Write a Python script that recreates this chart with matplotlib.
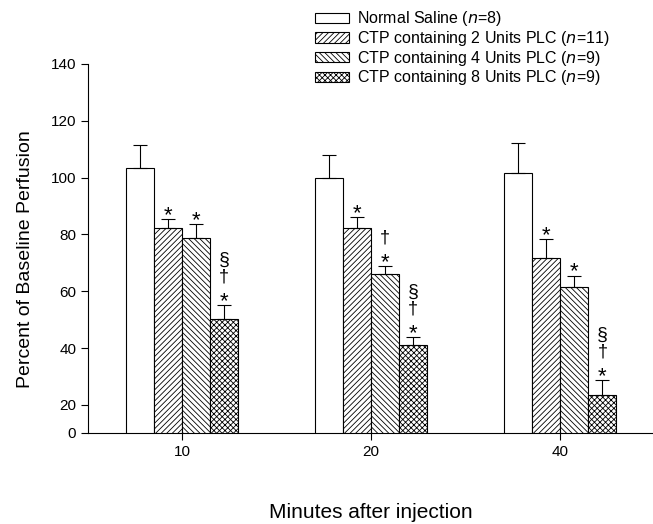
import matplotlib
matplotlib.use("Agg")
import matplotlib.pyplot as plt
import numpy as np

plt.rcParams['font.family'] = ['Liberation Sans', 'DejaVu Sans']
plt.rcParams['hatch.linewidth'] = 0.6

# data
minutes = ['10', '20', '40']
groups = ['Normal Saline ($n$=8)',
          'CTP containing 2 Units PLC ($n$=11)',
          'CTP containing 4 Units PLC ($n$=9)',
          'CTP containing 8 Units PLC ($n$=9)']
saline = [103.3, 100, 101.5]
saline_err = [8.2, 8, 10.5]
plc2 = [82.2, 82.2, 71.6]
plc2_err = [3.1, 3.8, 6.7]
plc4 = [78.7, 66, 61.4]
plc4_err = [5, 3, 4.1]
plc8 = [50.2, 41.1, 23.5]
plc8_err = [5, 2.9, 5.3]
# significance symbols, bottom to top
marks2 = [['*'], ['*'], ['*']]
marks4 = [['*'], ['*', '\u2020'], ['*']]
marks8 = [['*', '\u2020', '\u00a7']] * 3

# y axis of the original starts at 0 but the lowest tick gap is shortened
ytick_vals = [10.15, 20, 40, 60, 80, 100, 120, 140]
ytick_labels = ['0', '20', '40', '60', '80', '100', '120', '140']

means = [saline, plc2, plc4, plc8]
errs = [saline_err, plc2_err, plc4_err, plc8_err]
marks = [None, marks2, marks4, marks8]
hatches = ['', '//////', '\\\\\\\\\\\\', 'xxxxxx']

fig = plt.figure(figsize=(6.53, 5.24), dpi=100)
ax = fig.add_axes([0.135, 0.174, 0.865, 0.704])

x = np.arange(len(minutes))
w = 0.148
handles = []
# (offset in points above the error cap, vertical alignment, font size)
sym_style = {'*': (-1.5, 'baseline', 16),
             '\u2020': (20, 'center', 13),
             '\u00a7': (32, 'center', 14)}
for i in range(4):
    pos = x + (i - 1.5) * w
    b = ax.bar(pos, means[i], w, color='white', edgecolor='black',
               linewidth=0.8, hatch=hatches[i], label=groups[i])
    ax.errorbar(pos, means[i], yerr=[np.zeros(3), errs[i]], fmt='none',
                ecolor='black', elinewidth=0.8, capsize=5, capthick=0.8)
    handles.append(b)
    if marks[i] is not None:
        for p, m, e, syms in zip(pos, means[i], errs[i], marks[i]):
            for k, s in enumerate(syms):
                off, va, fs = sym_style[s]
                ax.annotate(s, xy=(p, m + e), xytext=(0, off),
                            textcoords='offset points', ha='center',
                            va=va, fontsize=fs)

ax.set_xlim(-0.497, 2.49)
ax.set_ylim(10.15, 140)
ax.set_yticks(ytick_vals)
ax.set_yticklabels(ytick_labels)
ax.set_xticks(x)
ax.set_xticklabels(minutes)
ax.spines['top'].set_visible(False)
ax.spines['right'].set_visible(False)
ax.tick_params(direction='out', length=5, labelsize=11)
ax.set_ylabel('Percent of Baseline Perfusion', fontsize=14)
ax.yaxis.set_label_coords(-0.095, 0.47)
ax.set_xlabel('Minutes after injection', fontsize=15, labelpad=32)

fig.legend(handles=handles, loc='upper left', bbox_to_anchor=(0.483, 0.982),
           frameon=False, fontsize=11.5, handlelength=2.1, handleheight=0.6,
           labelspacing=0.04, handletextpad=0.5, borderaxespad=0,
           borderpad=0)

fig.savefig('out.png', dpi=100)
